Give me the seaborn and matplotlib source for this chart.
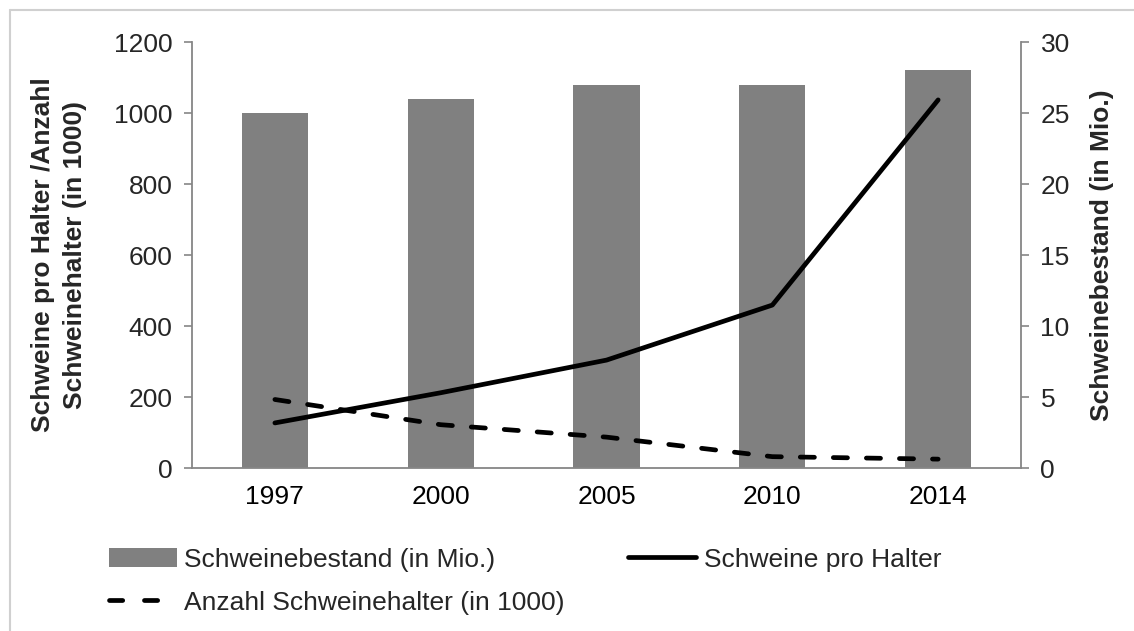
import matplotlib
matplotlib.use("Agg")
import matplotlib.pyplot as plt
from matplotlib.lines import Line2D
from matplotlib.patches import Patch
import numpy as np
import pandas as pd
import seaborn as sns

# Data
years = ["1997", "2000", "2005", "2010", "2014"]
schweinebestand = [25.0, 26.0, 27.0, 27.0, 28.0]          # in Mio. (right axis)
schweine_pro_halter = [127, 212, 304, 459, 1037]          # left axis
anzahl_halter = [193, 122, 87, 32, 25]                    # in 1000 (left axis)

left_ticks = [0, 200, 400, 600, 800, 1000, 1200]
right_ticks = [0, 5, 10, 15, 20, 25, 30]

sns.set_theme(style="white")
plt.rcParams["font.family"] = ["Liberation Sans", "DejaVu Sans"]

FS = 19
LW = 3.4
DASH = (3.0, 4.0)
LEGEND_DASH = (2.8, 4.6)

df = pd.DataFrame({
    "Jahr": years,
    "pos": np.arange(len(years)),
    "Schweinebestand": schweinebestand,
    "ProHalter": schweine_pro_halter,
    "Halter": anzahl_halter,
})

fig = plt.figure(figsize=(11.34, 6.31), dpi=100)
ax = fig.add_axes([0.1693, 0.2583, 0.9004 - 0.1693, 0.9334 - 0.2583])
ax2 = ax.twinx()

BAR = "#808080"
AXC = "#868686"

# Bars on the right axis
sns.barplot(data=df, x="Jahr", y="Schweinebestand", ax=ax2, color=BAR,
            width=0.4, saturation=1, edgecolor="none")

# Lines on the left axis
sns.lineplot(data=df, x="pos", y="ProHalter", ax=ax, color="black",
             linewidth=LW)
sns.lineplot(data=df, x="pos", y="Halter", ax=ax, color="black",
             linewidth=LW)
ax.lines[0].set_solid_capstyle("round")
ax.lines[0].set_solid_joinstyle("round")
ax.lines[1].set_dashes(DASH)
ax.lines[1].set_dash_capstyle("round")

ax.set_zorder(ax2.get_zorder() + 1)
ax.patch.set_visible(False)

for a in (ax, ax2):
    a.set_xlim(-0.5, len(years) - 0.5)
    for s in a.spines.values():
        s.set_visible(False)

ax.set_ylim(0, 1200)
ax2.set_ylim(0, 30)
ax.set_yticks(left_ticks)
ax2.set_yticks(right_ticks)

# x axis: labels at category centres, tick marks between categories
ax.set_xticks(np.arange(len(years)))
ax.set_xticklabels(years)
ax.set_xticks(np.arange(len(years) + 1) - 0.5, minor=True)
ax.tick_params(axis="x", which="major", length=0, pad=12, labelsize=FS, colors="black")
ax.tick_params(axis="x", which="minor", length=6, width=1.2, color=AXC, direction="out")
ax2.tick_params(axis="x", which="both", length=0, labelbottom=False)
ax2.set_xlabel("")

ax.spines["bottom"].set_visible(True)
ax.spines["bottom"].set_color(AXC)
ax.spines["bottom"].set_linewidth(1.3)
ax.spines["left"].set_visible(True)
ax.spines["left"].set_color(AXC)
ax.spines["left"].set_linewidth(1.3)
ax2.spines["right"].set_visible(True)
ax2.spines["right"].set_color(AXC)
ax2.spines["right"].set_linewidth(1.3)

ax.tick_params(axis="y", length=6, width=1.2, color=AXC, direction="out",
               labelsize=FS, pad=8, left=True)
ax2.tick_params(axis="y", length=6, width=1.2, color=AXC, direction="out",
                labelsize=FS, pad=8, right=True)

ax.set_xlabel("")
ax.set_ylabel("Schweine pro Halter /Anzahl\nSchweinehalter (in 1000)",
              fontsize=FS, fontweight="bold", linespacing=1.4)
ax.yaxis.set_label_coords(-0.1267, 0.5)
ax2.set_ylabel("Schweinebestand (in Mio.)", fontsize=FS, fontweight="bold",
               rotation=90)
ax2.yaxis.set_label_coords(1.083, 0.5)

ax.grid(False)
ax2.grid(False)

# Legend
handles = [
    Patch(facecolor=BAR, edgecolor="none"),
    Line2D([], [], color="black", linewidth=LW, dashes=LEGEND_DASH,
           dash_capstyle="round"),
    Line2D([], [], color="black", linewidth=LW, solid_capstyle="round"),
]
labels = ["Schweinebestand (in Mio.)", "Anzahl Schweinehalter (in 1000)",
          "Schweine pro Halter"]
fig.legend(handles, labels, ncol=2, loc="upper left",
           bbox_to_anchor=(0.0961, 0.1323), bbox_transform=fig.transFigure,
           frameon=False, fontsize=FS, handlelength=2.58, handletextpad=0.28,
           columnspacing=2.4, labelspacing=0.72, borderpad=0, borderaxespad=0)

# Frame lines around the chart area
fig.add_artist(Line2D([10 / 1134, 1.0], [1 - 10 / 631, 1 - 10 / 631],
                      transform=fig.transFigure, color="#D0D0D0", linewidth=1.5))
fig.add_artist(Line2D([10 / 1134, 10 / 1134], [0.0, 1 - 10 / 631],
                      transform=fig.transFigure, color="#D0D0D0", linewidth=1.5))

fig.savefig("out.png", dpi=100, facecolor="white")
